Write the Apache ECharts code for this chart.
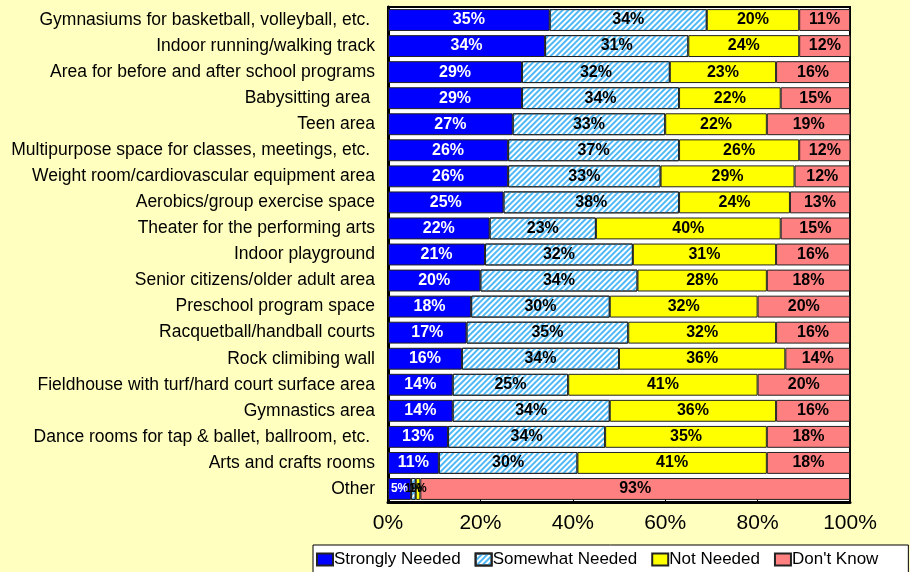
<!DOCTYPE html>
<html><head><meta charset="utf-8">
<script src="https://cdn.jsdelivr.net/npm/echarts@6/dist/echarts.min.js"></script>
<style>html,body{margin:0;padding:0;background:#ffffc0;}#c{width:910px;height:572px;}</style>
</head><body><div id="c"></div>
<script>
const categories = [
  "Gymnasiums for basketball, volleyball, etc. ",
  "Indoor running/walking track",
  "Area for before and after school programs",
  "Babysitting area ",
  "Teen area",
  "Multipurpose space for classes, meetings, etc. ",
  "Weight room/cardiovascular equipment area",
  "Aerobics/group exercise space",
  "Theater for the performing arts",
  "Indoor playground",
  "Senior citizens/older adult area",
  "Preschool program space",
  "Racquetball/handball courts",
  "Rock climibing wall",
  "Fieldhouse with turf/hard court surface area",
  "Gymnastics area",
  "Dance rooms for tap & ballet, ballroom, etc. ",
  "Arts and crafts rooms",
  "Other"
];
const stronglyNeeded = [35,34,29,29,27,26,26,25,22,21,20,18,17,16,14,14,13,11,5];
const somewhatNeeded = [34,31,32,34,33,37,33,38,23,32,34,30,35,34,25,34,34,30,1];
const notNeeded      = [20,24,23,22,22,26,29,24,40,31,28,32,32,36,41,36,35,41,1];
const dontKnow       = [11,12,16,15,19,12,12,13,15,16,18,20,16,14,20,16,18,18,93];
const xTicks = [0,20,40,60,80,100];

const chart = echarts.init(document.getElementById('c'));
function prep(data) {
  return data.map(v => v < 8 ? { value: v, label: { fontSize: 12 } } : v);
}
function mk(name, data, color, labelColor, decal) {
  const it = { color: color, borderColor: '#222', borderWidth: 1 };
  if (decal) it.decal = decal;
  return {
    name: name, type: 'bar', stack: 'all', data: prep(data), barCategoryGap: '16%',
    itemStyle: it,
    label: { show: true, position: 'inside', formatter: '{c}%', color: labelColor,
             fontFamily: 'Liberation Sans', fontWeight: 'bold', fontSize: 16 }
  };
}
chart.setOption({
  backgroundColor: '#ffffc0',
  animation: false,
  grid: { left: 388, right: 60, top: 7, bottom: 70, show: true, backgroundColor: '#ffffff',
          borderColor: '#000', borderWidth: 2 },
  xAxis: { type: 'value', min: xTicks[0], max: xTicks[xTicks.length-1], interval: 20,
    axisLabel: { formatter: '{value}%', fontFamily: 'Liberation Sans', fontSize: 21, color: '#000', margin: 11 },
    axisLine: { show: true, lineStyle: { color: '#000', width: 3 } },
    axisTick: { show: true, inside: true, length: 4, lineStyle: { color: '#000' } },
    splitLine: { show: false } },
  yAxis: { type: 'category', data: categories, inverse: true,
    axisLabel: { fontFamily: 'Liberation Sans', fontSize: 17.5, color: '#000', margin: 13 },
    axisLine: { show: true, lineStyle: { color: '#000', width: 3 } },
    axisTick: { show: false } },
  legend: { left: 313, top: 545, itemWidth: 16, itemHeight: 12, itemGap: 14, icon: 'rect',
    backgroundColor: '#ffffff', borderColor: '#000', borderWidth: 1, padding: [6, 30, 6, 3],
    textStyle: { fontFamily: 'Liberation Sans', fontSize: 17, color: '#000', padding: [0,0,0,-4] },
    data: ['Strongly Needed','Somewhat Needed','Not Needed',"Don't Know"] },
  series: [
    mk('Strongly Needed', stronglyNeeded, '#0000ff', '#ffffff'),
    mk('Somewhat Needed', somewhatNeeded, '#ffffff', '#000000',
      { symbol: 'rect', symbolSize: 1, color: '#4fb8f5', dashArrayX: [1, 0], dashArrayY: [2, 2], rotation: -Math.PI/4 }),
    mk('Not Needed', notNeeded, '#ffff00', '#000000'),
    mk("Don't Know", dontKnow, '#ff8080', '#000000')
  ]
});
</script></body></html>
